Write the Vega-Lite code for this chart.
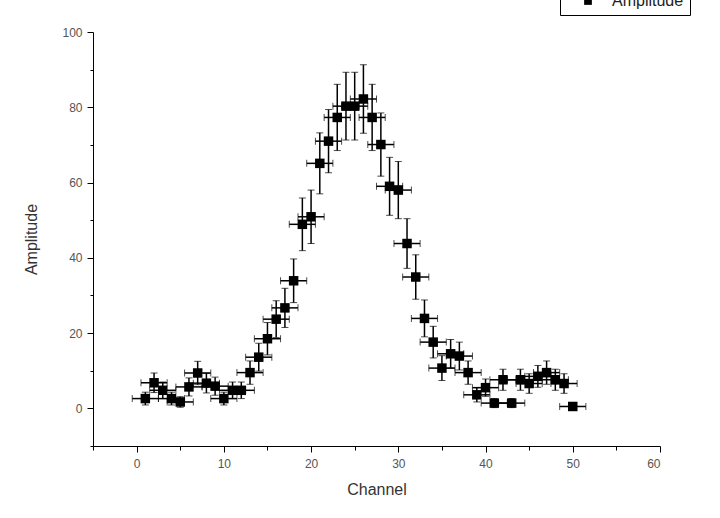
{
  "$schema": "https://vega.github.io/schema/vega-lite/v6.json",
  "width": 567,
  "height": 414,
  "autosize": {"type": "none"},
  "padding": {"left": 93, "top": 32, "right": 60, "bottom": 72},
  "background": "white",
  "config": {
    "view": {"stroke": null},
    "font": "Liberation Sans",
    "axis": {
      "domainColor": "#000000",
      "tickColor": "#000000",
      "labelColor": "#555555",
      "labelFont": "Liberation Sans",
      "labelFontSize": 12,
      "titleFont": "Liberation Sans",
      "titleFontSize": 16,
      "titleFontWeight": "normal",
      "titleColor": "#333333",
      "grid": false
    }
  },
  "data": {
    "values": [
      {"channel": 1, "amp": 2.6, "err": 1.7, "xerr": 1.5},
      {"channel": 2, "amp": 6.8, "err": 2.6, "xerr": 1.5},
      {"channel": 3, "amp": 4.8, "err": 2.2, "xerr": 1.5},
      {"channel": 4, "amp": 2.6, "err": 1.7, "xerr": 1.5},
      {"channel": 5, "amp": 1.7, "err": 1.4, "xerr": 1.5},
      {"channel": 6, "amp": 5.7, "err": 2.4, "xerr": 1.5},
      {"channel": 7, "amp": 9.4, "err": 3.1, "xerr": 1.5},
      {"channel": 8, "amp": 6.7, "err": 2.6, "xerr": 1.5},
      {"channel": 9, "amp": 5.9, "err": 2.4, "xerr": 1.5},
      {"channel": 10, "amp": 2.6, "err": 1.7, "xerr": 1.5},
      {"channel": 11, "amp": 4.8, "err": 2.2, "xerr": 1.5},
      {"channel": 12, "amp": 4.8, "err": 2.2, "xerr": 1.5},
      {"channel": 13, "amp": 9.5, "err": 3.1, "xerr": 1.5},
      {"channel": 14, "amp": 13.6, "err": 3.7, "xerr": 1.5},
      {"channel": 15, "amp": 18.5, "err": 4.3, "xerr": 1.5},
      {"channel": 16, "amp": 23.7, "err": 4.9, "xerr": 1.5},
      {"channel": 17, "amp": 26.7, "err": 5.2, "xerr": 1.5},
      {"channel": 18, "amp": 33.9, "err": 5.8, "xerr": 1.5},
      {"channel": 19, "amp": 48.9, "err": 7.0, "xerr": 1.5},
      {"channel": 20, "amp": 50.9, "err": 7.1, "xerr": 1.5},
      {"channel": 21, "amp": 65.1, "err": 8.1, "xerr": 1.5},
      {"channel": 22, "amp": 71.0, "err": 8.4, "xerr": 1.5},
      {"channel": 23, "amp": 77.3, "err": 8.8, "xerr": 1.5},
      {"channel": 24, "amp": 80.3, "err": 9.0, "xerr": 1.5},
      {"channel": 25, "amp": 80.3, "err": 9.0, "xerr": 1.5},
      {"channel": 26, "amp": 82.2, "err": 9.1, "xerr": 1.5},
      {"channel": 27, "amp": 77.3, "err": 8.8, "xerr": 1.5},
      {"channel": 28, "amp": 70.1, "err": 8.4, "xerr": 1.5},
      {"channel": 29, "amp": 59.0, "err": 7.7, "xerr": 1.5},
      {"channel": 30, "amp": 58.0, "err": 7.6, "xerr": 1.5},
      {"channel": 31, "amp": 43.8, "err": 6.6, "xerr": 1.5},
      {"channel": 32, "amp": 34.9, "err": 5.9, "xerr": 1.5},
      {"channel": 33, "amp": 23.9, "err": 4.9, "xerr": 1.5},
      {"channel": 34, "amp": 17.6, "err": 4.2, "xerr": 1.5},
      {"channel": 35, "amp": 10.7, "err": 3.3, "xerr": 1.5},
      {"channel": 36, "amp": 14.5, "err": 3.8, "xerr": 1.5},
      {"channel": 37, "amp": 13.9, "err": 3.7, "xerr": 1.5},
      {"channel": 38, "amp": 9.5, "err": 3.1, "xerr": 1.5},
      {"channel": 39, "amp": 3.6, "err": 1.9, "xerr": 1.5},
      {"channel": 40, "amp": 5.5, "err": 2.3, "xerr": 1.5},
      {"channel": 41, "amp": 1.4, "err": 1.2, "xerr": 1.5},
      {"channel": 42, "amp": 7.6, "err": 2.8, "xerr": 1.5},
      {"channel": 43, "amp": 1.4, "err": 1.2, "xerr": 1.5},
      {"channel": 44, "amp": 7.6, "err": 2.8, "xerr": 1.5},
      {"channel": 45, "amp": 6.6, "err": 2.6, "xerr": 1.5},
      {"channel": 46, "amp": 8.5, "err": 2.9, "xerr": 1.5},
      {"channel": 47, "amp": 9.5, "err": 3.1, "xerr": 1.5},
      {"channel": 48, "amp": 7.6, "err": 2.8, "xerr": 1.5},
      {"channel": 49, "amp": 6.6, "err": 2.6, "xerr": 1.5},
      {"channel": 50, "amp": 0.5, "err": 0.7, "xerr": 1.5}
    ]
  },
  "layer": [
    {
      "mark": {"type": "errorbar", "ticks": {"size": 7, "color": "#000000"}, "rule": {"strokeWidth": 1.5, "color": "#000000"}},
      "encoding": {
        "x": {"field": "channel", "type": "quantitative", "title": "Channel",
          "scale": {"domain": [-5, 60], "nice": false, "zero": false},
          "axis": {"values": [-5, 0, 5, 10, 15, 20, 25, 30, 35, 40, 45, 50, 55, 60], "title": "Channel",
            "tickCount": 30,
            "labelExpr": "datum.value % 10 === 0 ? datum.label : ''",
            "tickSize": {"condition": {"test": "datum.value % 10 === 0", "value": 6}, "value": 4},
            "labelPadding": 6, "titlePadding": 12}},
        "y": {"field": "amp", "type": "quantitative", "title": "Amplitude",
          "scale": {"domain": [-10, 100], "nice": false, "zero": false},
          "axis": {"values": [-10, 0, 10, 20, 30, 40, 50, 60, 70, 80, 90, 100], "title": "Amplitude",
            "tickCount": 30,
            "labelExpr": "datum.value % 20 == 0 ? datum.label : ''",
            "labelOverlap": false,
            "tickSize": {"condition": {"test": "datum.value % 20 == 0", "value": 6}, "value": 3},
            "labelPadding": 5, "titlePadding": 22}},
        "yError": {"field": "err"}
      }
    },
    {
      "mark": {"type": "errorbar", "ticks": {"size": 7, "color": "#000000"}, "rule": {"strokeWidth": 1.5, "color": "#000000"}},
      "encoding": {
        "x": {"field": "channel", "type": "quantitative", "title": "Channel"},
        "y": {"field": "amp", "type": "quantitative", "title": "Amplitude"},
        "xError": {"field": "xerr"}
      }
    },
    {
      "mark": {"type": "square", "filled": true, "size": 90, "opacity": 1},
      "encoding": {
        "x": {"field": "channel", "type": "quantitative", "title": "Channel"},
        "y": {"field": "amp", "type": "quantitative", "title": "Amplitude"},
        "color": {"datum": "Amplitude", "type": "nominal", "scale": {"range": ["#000000"]},
          "legend": {"title": null, "orient": "none", "legendX": 467, "legendY": -45, "strokeColor": "#000000", "fillColor": "white", "padding": 6, "symbolType": "square", "symbolSize": 60, "labelFontSize": 16, "labelFont": "Liberation Sans", "labelColor": "#222222", "symbolOffset": 14, "labelOffset": 16}}
      }
    }
  ]
}
